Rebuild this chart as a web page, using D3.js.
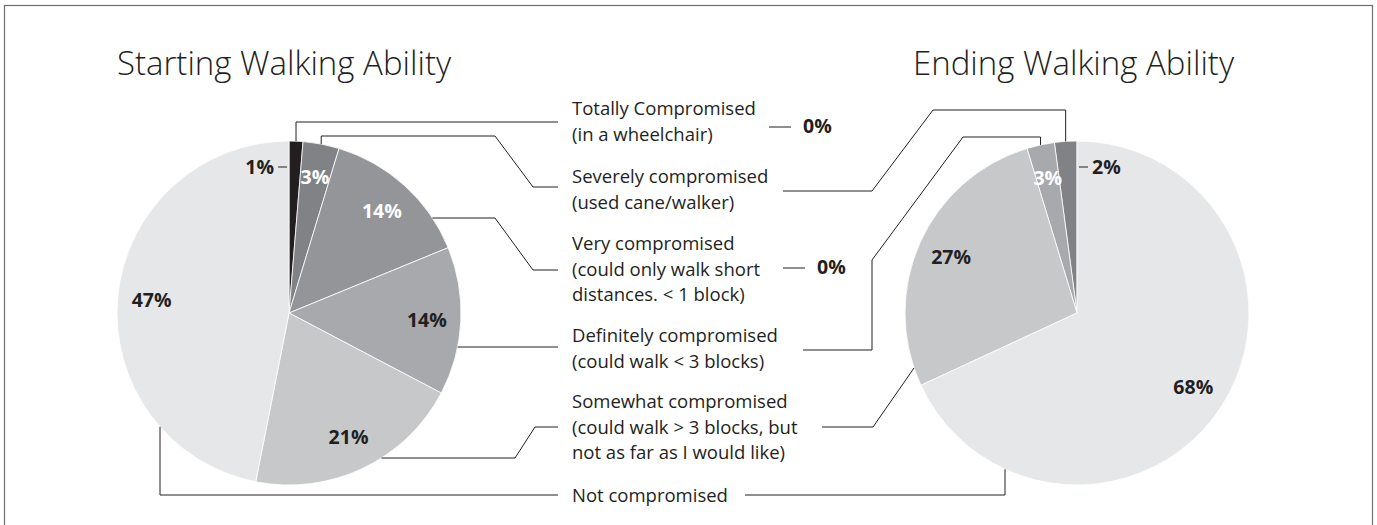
<!DOCTYPE html>
<html>
<head>
<meta charset="utf-8">
<script src="https://cdn.jsdelivr.net/npm/d3@7"></script>
<style>
  body { margin: 0; background: #fff; }
  text { font-family: "Open Sans", "Noto Sans", sans-serif; }
  .title { font-size: 33px; font-weight: 300; fill: #231f20; }
  .cat { font-size: 18.5px; fill: #231f20; }
  .pct { font-size: 19.5px; font-weight: 700; }
  .leader { fill: none; stroke: #231f20; stroke-width: 1; }
</style>
</head>
<body>
<svg id="chart" width="1377" height="525"></svg>
<script>
// categories (one entry per slice, in the order of the legend)
const CATEGORIES = [
  ["Totally Compromised", "(in a wheelchair)"],
  ["Severely compromised", "(used cane/walker)"],
  ["Very compromised", "(could only walk short", "distances. < 1 block)"],
  ["Definitely compromised", "(could walk < 3 blocks)"],
  ["Somewhat compromised", "(could walk > 3 blocks, but", "not as far as I would like)"],
  ["Not compromised"],
];
const START_VALUES = [1.3, 3.4, 14.1, 13.9, 20.4, 46.9];
const START_LABELS = ["1%", "3%", "14%", "14%", "21%", "47%"];
const END_VALUES = [0, 2.1, 0, 2.6, 27.2, 68.1];
const END_LABELS = ["0%", "2%", "0%", "3%", "27%", "68%"];
const TITLES = ["Starting Walking Ability", "Ending Walking Ability"];

const COLORS = ["#231f20", "#808285", "#939598", "#a7a9ac", "#c7c8ca", "#e6e7e8"];
const SVG = d3.select("#chart");
const RADIUS = 172;
const LABEL_RADIUS = 138;
const TEXT_X = 572;
const LINE_H = 25.5;
const BLOCK_Y = [115, 183, 250, 342, 408, 502];

const color = d3.scaleOrdinal().domain(d3.range(6)).range(COLORS);
const arc = d3.arc().innerRadius(0).outerRadius(RADIUS);

// frame
SVG.append("rect")
  .attr("x", 4.5)
  .attr("y", 5.5)
  .attr("width", 1368)
  .attr("height", 560)
  .attr("fill", "none")
  .attr("stroke", "#6d6e71")
  .attr("stroke-width", 1.2);

const LEFT = { cx: 289, cy: 313, start: 0, end: 2 * Math.PI, values: START_VALUES, labels: START_LABELS, white: [1, 2] };
const RIGHT = { cx: 1077, cy: 313, start: 0, end: -2 * Math.PI, values: END_VALUES, labels: END_LABELS, white: [3] };

const drawPie = (p, outside) => {
  const arcs = d3.pie().sort(null).startAngle(p.start).endAngle(p.end)(p.values);
  p.arcs = arcs;
  const g = SVG.append("g").attr("transform", "translate(" + p.cx + "," + p.cy + ")");
  g.selectAll("path")
    .data(arcs.filter((d) => d.value > 0))
    .join("path")
    .attr("d", arc)
    .attr("fill", (d) => color(d.index))
    .attr("stroke", "#fff")
    .attr("stroke-width", 0.8);

  const inner = arcs.filter((d) => d.value > 0 && d.index !== outside);
  g.selectAll("text.pct")
    .data(inner)
    .join("text")
    .attr("class", "pct")
    .attr("text-anchor", "middle")
    .attr("x", (d) => LABEL_RADIUS * Math.sin((d.startAngle + d.endAngle) / 2))
    .attr("y", (d) => -LABEL_RADIUS * Math.cos((d.startAngle + d.endAngle) / 2) + 7)
    .attr("fill", (d) => (p.white.includes(d.index) ? "#fff" : "#231f20"))
    .text((d) => p.labels[d.index]);

  // small slice at 12 o'clock, labelled outside with a tick
  const dir = p.end > 0 ? -1 : 1;
  g.append("line")
    .attr("class", "leader")
    .attr("x1", dir * 2)
    .attr("x2", dir * 11)
    .attr("y1", -146)
    .attr("y2", -146);
  g.append("text")
    .attr("class", "pct")
    .attr("text-anchor", dir < 0 ? "end" : "start")
    .attr("x", dir * 15)
    .attr("y", -139)
    .attr("fill", "#231f20")
    .text(p.labels[outside]);
};

drawPie(LEFT, 0);
drawPie(RIGHT, 1);

// titles
SVG.append("text").attr("class", "title").attr("x", 117).attr("y", 75).text(TITLES[0]);
SVG.append("text").attr("class", "title").attr("x", 913).attr("y", 75).text(TITLES[1]);

// category labels in the middle
CATEGORIES.forEach((lines, i) => {
  const t = SVG.append("text").attr("class", "cat").attr("y", BLOCK_Y[i]);
  lines.forEach((s, j) => {
    t.append("tspan").attr("x", TEXT_X).attr("y", BLOCK_Y[i] + j * LINE_H).text(s);
  });
});

// anchor helpers on the pie rim
const midTop = (p, i) => {
  const d = p.arcs[i];
  const a = (d.startAngle + d.endAngle) / 2;
  return [p.cx + RADIUS * Math.sin(a), p.cy - RADIUS * Math.cos(a)];
};
const atY = (p, y, side) => [p.cx + side * Math.sqrt(RADIUS * RADIUS - (y - p.cy) ** 2), y];
const atX = (p, x, side) => [x, p.cy + side * Math.sqrt(RADIUS * RADIUS - (x - p.cx) ** 2)];

const L = TEXT_X - 14;
const l0 = midTop(LEFT, 0);
const l1 = midTop(LEFT, 1);
const r1 = midTop(RIGHT, 1);
const r3 = midTop(RIGHT, 3);
const LEADERS = [
  [l0, [l0[0], 122], [L, 122]],
  [l1, [l1[0], 136], [495, 136], [533, 187], [L, 187]],
  [atY(LEFT, 218, 1), [495, 218], [533, 270], [L, 270]],
  [atY(LEFT, 347, 1), [L, 347]],
  [atY(LEFT, 458, 1), [515, 458], [535, 427], [L, 427]],
  [atX(LEFT, 160, 1), [160, 495], [L, 495]],
  [r1, [r1[0], 110], [933, 110], [872, 191], [783, 191]],
  [r3, [r3[0], 137], [963, 137], [872, 260], [872, 350], [803, 350]],
  [atY(RIGHT, 368, -1), [873, 427], [822, 427]],
  [atX(RIGHT, 1005, 1), [1005, 495], [745, 495]],
  [[769, 127], [791, 127]],
  [[783, 268], [805, 268]],
];

SVG.append("g")
  .selectAll("path")
  .data(LEADERS)
  .join("path")
  .attr("class", "leader")
  .attr("d", d3.line());

// zero values of the ending pie, next to their category
const zeros = RIGHT.arcs.filter((d) => d.value === 0);
SVG.selectAll("text.zero")
  .data(zeros)
  .join("text")
  .attr("class", "pct zero")
  .attr("x", (d, i) => [803, 817][i])
  .attr("y", (d, i) => [133, 274][i])
  .attr("fill", "#231f20")
  .text((d) => END_LABELS[d.index]);
</script>
</body>
</html>
